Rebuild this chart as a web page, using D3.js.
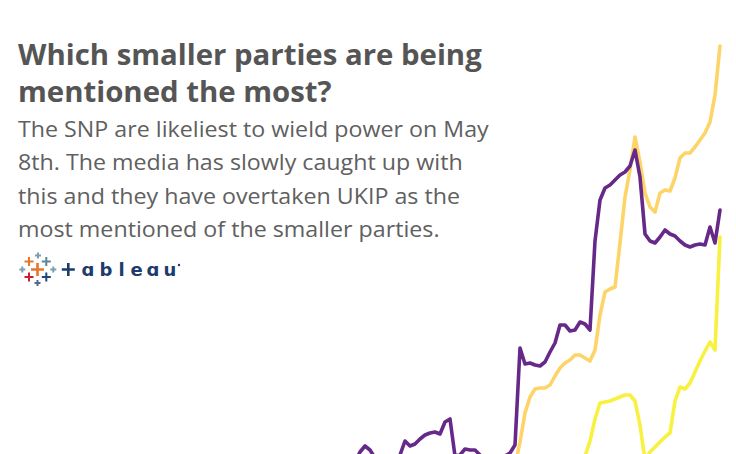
<!DOCTYPE html>
<html>
<head>
<meta charset="utf-8">
<script src="https://cdn.jsdelivr.net/npm/d3@7"></script>
<style>
  html, body { margin: 0; padding: 0; background: #fff; }
  svg { display: block; }
</style>
</head>
<body>
<svg id="chart" width="736" height="454"></svg>
<script>
// ---- DATA ----
const days = d3.range(74); // daily index, mid-Feb to early May 2015
const ukip = [8,18,24,20,12,10,12,10,11,15,29,24,26,31,35,37,38,36,48,51,
  14,15,21,20,20,15,12,10,11,12,14,17,25,122,106,107,105,104,108,118,
  127,145,145,139,140,148,146,140,229,270,282,285,290,295,298,304,320,293,236,229,
  227,233,240,236,234,229,225,223,225,226,225,243,227,260];
const snp = [6,6,6,6,6,6,6,6,6,6,6,6,6,6,6,6,6,6,6,6,
  6,6,6,6,6,6,6,6,6,6,6,6,4,28,57,73,81,82,82,85,
  94,102,107,110,115,115,112,109,120,155,178,181,183,227,273,300,333,308,277,263,
  258,277,280,279,292,312,317,317,323,330,337,348,375,424];
const greens = [5,5,5,5,5,5,5,5,5,5,5,5,5,5,5,5,5,5,5,5,
  5,5,5,5,5,5,5,5,5,5,5,5,5,5,5,5,5,5,5,5,
  5,5,5,5,5,5,14,29,51,67,68,69,71,73,75,75,69,45,10,18,
  23,28,33,37,69,83,81,87,98,109,119,128,120,233];
const seriesNames = ["UKIP", "SNP", "Greens"];
const titleLines = ["Which smaller parties are being", "mentioned the most?"];
const bodyLines = [
  "The SNP are likeliest to wield power on May",
  "8th. The media has slowly caught up with",
  "this and they have overtaken UKIP as the",
  "most mentioned of the smaller parties."
];

// ---- CHART ----
const svg = d3.select("#chart");
const x = d3.scaleLinear().domain([0, 73]).range([355, 720]);
const y = d3.scaleLinear().domain([0, 425]).range([470, 45]);

const series = [
  { name: seriesNames[2], values: greens, color: "#f8f140" },
  { name: seriesNames[1], values: snp, color: "#fdd468" },
  { name: seriesNames[0], values: ukip, color: "#66298a" }
];

const line = d3.line().x((d, i) => x(days[i])).y(d => y(d));
svg.append("g").selectAll("path").data(series).join("path")
  .attr("d", d => line(d.values))
  .attr("fill", "none")
  .attr("stroke", d => d.color)
  .attr("stroke-width", 3.6)
  .attr("stroke-linejoin", "round")
  .attr("stroke-linecap", "round");

// ---- TEXT ----
function textBlock(lines, opts) {
  const nodes = lines.map((t, i) => svg.append("text")
    .attr("x", 0).attr("y", 0)
    .attr("font-family", "'Open Sans', sans-serif")
    .attr("font-weight", opts.weight)
    .attr("font-size", opts.size)
    .attr("fill", opts.color)
    .text(t));
  const w = nodes[0].node().getComputedTextLength();
  const sx = opts.width / w;
  nodes.forEach((n, i) => n.attr("transform",
    `translate(${opts.x},${opts.y0 + i * opts.dy}) scale(${sx},1)`));
}
textBlock(titleLines, { x: 18, y0: 64.7, dy: 37, size: 29, weight: 700, color: "#555555", width: 464 });
textBlock(bodyLines, { x: 18, y0: 137, dy: 33.3, size: 21.5, weight: 400, color: "#606060", width: 471 });

// ---- TABLEAU LOGO ----
const logo = svg.append("g");
const crosses = [
  { cx: 38, cy: 255.5, r: 3, c: "#7f9fb0" },
  { cx: 29, cy: 261.5, r: 4.5, c: "#e8762b" },
  { cx: 46.3, cy: 261.5, r: 4.5, c: "#5b879b" },
  { cx: 37.5, cy: 269.5, r: 6.5, c: "#e8762b" },
  { cx: 22.3, cy: 269.5, r: 3, c: "#7f9fb0" },
  { cx: 53.3, cy: 269.5, r: 3, c: "#7f9fb0" },
  { cx: 29, cy: 277, r: 4.5, c: "#c72035" },
  { cx: 46.3, cy: 277, r: 4.5, c: "#1f457e" },
  { cx: 37.5, cy: 283, r: 3, c: "#5b6591" },
  { cx: 68.3, cy: 269.5, r: 6.5, c: "#1f3b6e" }
];
crosses.forEach(k => {
  logo.append("path")
    .attr("d", `M${k.cx - k.r},${k.cy}H${k.cx + k.r}M${k.cx},${k.cy - k.r}V${k.cy + k.r}`)
    .attr("stroke", k.c)
    .attr("stroke-width", k.r > 5 ? 2.6 : 2)
    .attr("fill", "none");
});
const letters = [["ɑ", 88], ["b", 106], ["l", 121.7], ["e", 136.7], ["ɑ", 153], ["u", 170]];
letters.forEach(([ch, cx]) => {
  logo.append("text")
    .attr("x", cx).attr("y", 276)
    .attr("text-anchor", "middle")
    .attr("font-family", "'DejaVu Sans', sans-serif")
    .attr("font-weight", 600)
    .attr("font-size", 18)
    .attr("fill", "#1f3b6e")
    .text(ch);
});
logo.append("circle").attr("cx", 179).attr("cy", 265).attr("r", 1.2).attr("fill", "#1f3b6e");
</script>
</body>
</html>
